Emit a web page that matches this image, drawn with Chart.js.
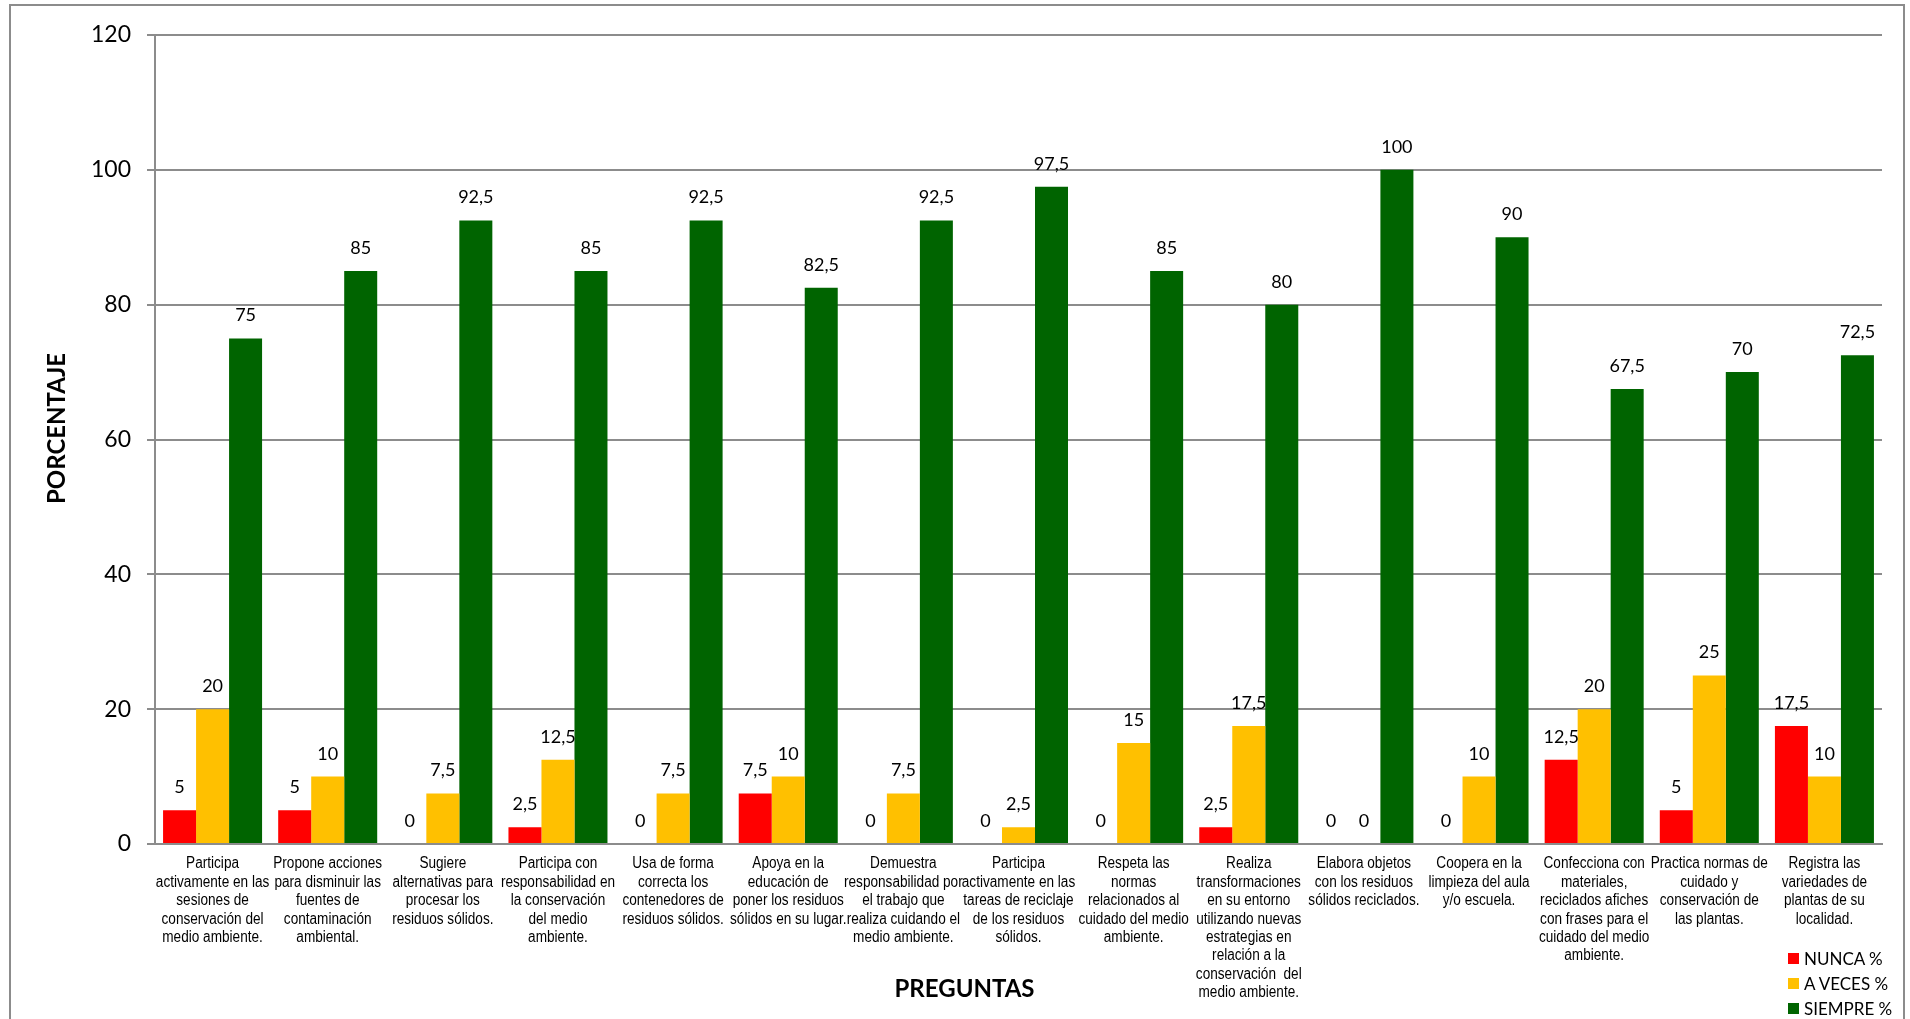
<!DOCTYPE html>
<html lang="es">
<head>
<meta charset="utf-8">
<title>Porcentaje por pregunta</title>
<script src="https://cdn.jsdelivr.net/npm/chart.js@4.4.1/dist/chart.umd.min.js"></script>
<style>
  html, body { margin: 0; padding: 0; background: #fff; overflow: hidden; }
  #wrap   { position: relative; width: 1910px; height: 1019px; }
  #frame  { position: absolute; left: 9px; top: 4px; width: 1896px; height: 1100px;
            border: 2px solid #8c8c8c; box-sizing: border-box; }
  #chart  { position: absolute; left: 0; top: 0; }
  #legend { position: absolute; left: 1788px; top: 946px; font: 17px Lato, sans-serif; color: #000; }
  .lg-row { display: flex; align-items: center; height: 25px; }
  .lg-box { width: 11px; height: 11px; margin-right: 5px; }
</style>
</head>
<body>
<div id="wrap">
  <div id="frame"></div>
  <canvas id="chart" width="1910" height="1019"></canvas>
  <div id="legend"></div>
</div>
<script>
// categories (multi-line labels as in the original sheet)
const categories = [
  ['Participa', 'activamente en las', 'sesiones de', 'conservación del', 'medio ambiente.'],
  ['Propone acciones', 'para disminuir las', 'fuentes de', 'contaminación', 'ambiental.'],
  ['Sugiere', 'alternativas para', 'procesar los', 'residuos sólidos.'],
  ['Participa con', 'responsabilidad en', 'la conservación', 'del medio', 'ambiente.'],
  ['Usa de forma', 'correcta los', 'contenedores de', 'residuos sólidos.'],
  ['Apoya en la', 'educación de', 'poner los residuos', 'sólidos en su lugar.'],
  ['Demuestra', 'responsabilidad por', 'el trabajo que', 'realiza cuidando el', 'medio ambiente.'],
  ['Participa', 'activamente en las', 'tareas de reciclaje', 'de los residuos', 'sólidos.'],
  ['Respeta las', 'normas', 'relacionados al', 'cuidado del medio', 'ambiente.'],
  ['Realiza', 'transformaciones', 'en su entorno', 'utilizando nuevas', 'estrategias en', 'relación a la', 'conservación  del', 'medio ambiente.'],
  ['Elabora objetos', 'con los residuos', 'sólidos reciclados.'],
  ['Coopera en la', 'limpieza del aula', 'y/o escuela.'],
  ['Confecciona con', 'materiales,', 'reciclados afiches', 'con frases para el', 'cuidado del medio', 'ambiente.'],
  ['Practica normas de', 'cuidado y', 'conservación de', 'las plantas.'],
  ['Registra las', 'variedades de', 'plantas de su', 'localidad.'],
];

const nunca   = [5, 5, 0, 2.5, 0, 7.5, 0, 0, 0, 2.5, 0, 0, 12.5, 5, 17.5];
const aVeces  = [20, 10, 7.5, 12.5, 7.5, 10, 7.5, 2.5, 15, 17.5, 0, 10, 20, 25, 10];
const siempre = [75, 85, 92.5, 85, 92.5, 82.5, 92.5, 97.5, 85, 80, 100, 90, 67.5, 70, 72.5];

const seriesNames  = ['NUNCA %', 'A VECES %', 'SIEMPRE %'];
const seriesColors = ['#FF0000', '#FFC000', '#006400'];
const yTicks = [0, 20, 40, 60, 80, 100, 120];

const GRID = '#8c8c8c';

// value labels above each bar, decimal comma
const valueLabels = {
  id: 'valueLabels',
  afterDatasetsDraw(chart) {
    const { ctx } = chart;
    ctx.save();
    ctx.font = '18px Lato';
    ctx.fillStyle = '#000';
    ctx.textAlign = 'center';
    ctx.textBaseline = 'alphabetic';
    chart.data.datasets.forEach((ds, i) => {
      chart.getDatasetMeta(i).data.forEach((bar, j) => {
        ctx.fillText(String(ds.data[j]).replace('.', ','), bar.x, bar.y - 17);
      });
    });
    ctx.restore();
  }
};

// category labels: narrow sans (no Arial Narrow installed, so squeeze Liberation Sans)
const xLabels = {
  id: 'xLabels',
  afterDraw(chart) {
    const s = chart.scales.x;
    const { ctx } = chart;
    ctx.save();
    ctx.font = '16px "Liberation Sans", Arial, sans-serif';
    ctx.fillStyle = '#000';
    ctx.textAlign = 'center';
    ctx.textBaseline = 'middle';
    s.ticks.forEach((t, i) => {
      const x = s.getPixelForTick(i);
      [].concat(chart.data.labels[i]).forEach((ln, k) => {
        ctx.save();
        ctx.translate(x, s.top + 20 + k * 18.4);
        ctx.scale(0.85, 1);
        ctx.fillText(ln, 0, 0);
        ctx.restore();
      });
    });
    ctx.restore();
  }
};

// axis titles, placed like the spreadsheet original
const axisTitles = {
  id: 'axisTitles',
  afterDraw(chart) {
    const { ctx, chartArea } = chart;
    ctx.save();
    ctx.font = 'bold 24px Lato';
    ctx.fillStyle = '#000';
    ctx.textAlign = 'center';
    ctx.textBaseline = 'middle';
    ctx.fillText('PREGUNTAS', (chartArea.left + chartArea.right) / 2 - 54, chartArea.bottom + 145);
    ctx.translate(chartArea.left - 98, (chartArea.top + chartArea.bottom) / 2 - 11);
    ctx.rotate(-Math.PI / 2);
    ctx.fillText('PORCENTAJE', 0, 0);
    ctx.restore();
  }
};

function buildLegend() {
  const el = document.getElementById('legend');
  el.innerHTML = seriesNames.map((n, i) =>
    `<div class="lg-row"><span class="lg-box" style="background:${seriesColors[i]}"></span>${n}</div>`
  ).join('');
}

function draw() {
  const ctx = document.getElementById('chart');
  new Chart(ctx, {
    type: 'bar',
    data: {
      labels: categories,
      datasets: [nunca, aVeces, siempre].map((d, i) => ({
        label: seriesNames[i],
        data: d,
        backgroundColor: seriesColors[i],
        borderWidth: 0,
        categoryPercentage: 0.86,
        barPercentage: 1.0,
      }))
    },
    options: {
      responsive: false,
      animation: false,
      layout: { padding: { left: 10, right: 28, top: 35, bottom: 0 } },
      plugins: { legend: { display: false }, tooltip: { enabled: false } },
      scales: {
        x: {
          grid: { display: false, drawTicks: false },
          border: { display: true, color: GRID, width: 2 },
          ticks: { display: false, autoSkip: false },
          afterFit: s => { s.height = 175; }
        },
        y: {
          min: 0, max: 120,
          afterBuildTicks: s => { s.ticks = yTicks.map(v => ({ value: v })); },
          ticks: { padding: 16, color: '#000', font: { family: 'Lato', size: 23 } },
          grid: { color: GRID, lineWidth: 2, tickLength: 8 },
          border: { color: GRID, width: 2 },
          afterFit: s => { s.width = 145; }
        }
      }
    },
    plugins: [valueLabels, xLabels, axisTitles]
  });
}

buildLegend();
draw();
</script>
</body>
</html>
